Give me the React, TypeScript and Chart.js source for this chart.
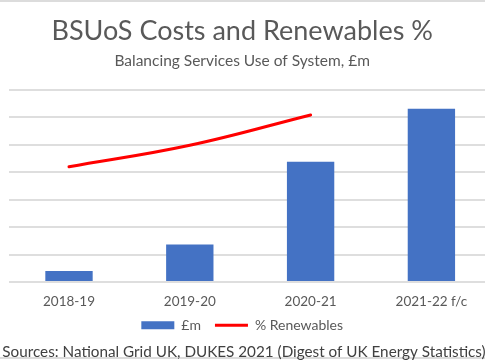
import React, { useEffect, useRef } from "react";
import { Chart, registerables } from "chart.js";

Chart.register(...registerables);

const categories = ["2018-19", "2019-20", "2020-21", "2021-22 f/c"];
const costValues = [40, 137, 438, 632];
const renewablesValues: (number | null)[] = [30.0, 35.6, 43.5, null];
const costTicks = { min: 0, max: 700, step: 100 };
const renewTicks = { min: 0, max: 50 };
const titleText = "BSUoS Costs and Renewables %";
const subtitleText = "Balancing Services Use of System, £m";
const sourceText = "Sources: National Grid UK, DUKES 2021 (Digest of UK Energy Statistics)";

const FONT = "Lato, 'Open Sans', sans-serif";
const GREY = "#595959";
const LEGEND_PAD = 14;
const LEGEND_FONT = 14;
const LEGEND_CENTER_Y = 325.3;

export default function App() {
  const ref = useRef<HTMLCanvasElement>(null);

  useEffect(() => {
    const canvas = ref.current;
    if (!canvas) return;

    const framePlugin = {
      id: "frame",
      afterLayout(chart: any) {
        const lg = chart.legend;
        if (lg) {
          const shift = lg.top + LEGEND_PAD + LEGEND_FONT / 2 - LEGEND_CENTER_Y;
          lg.top -= shift;
          lg.bottom -= shift;
        }
      },
      beforeDraw(chart: any) {
        const ctx = chart.ctx;
        ctx.save();
        ctx.fillStyle = "#ffffff";
        ctx.fillRect(0, 0, chart.width, chart.height);
        ctx.fillStyle = "#dcdcdc";
        ctx.fillRect(0, 0, chart.width, 2);
        ctx.fillRect(0, 357, chart.width, 2);
        ctx.restore();
      },
      afterDraw(chart: any) {
        const ctx = chart.ctx;
        ctx.save();
        ctx.font = `15.25px ${FONT}`;
        ctx.fillStyle = "#404040";
        ctx.textAlign = "center";
        ctx.textBaseline = "middle";
        ctx.fillText(sourceText, 252, 352);
        ctx.restore();
      },
    };

    const chart = new Chart(canvas, {
      type: "bar",
      data: {
        labels: categories,
        datasets: [
          {
            type: "bar",
            label: "£m",
            data: costValues,
            yAxisID: "y",
            backgroundColor: "#4472C4",
            borderWidth: 0,
            categoryPercentage: 0.8,
            barPercentage: 0.49,
          } as any,
          {
            type: "line",
            label: "% Renewables",
            data: renewablesValues,
            yAxisID: "y1",
            borderColor: "#FF0000",
            backgroundColor: "#FF0000",
            borderWidth: 3,
            pointRadius: 0,
            tension: 0.4,
            borderCapStyle: "round",
            spanGaps: false,
          } as any,
        ],
      },
      options: {
        responsive: false,
        animation: false,
        devicePixelRatio: 1,
        layout: { padding: { left: 0.6, right: 0.2, top: 0, bottom: 12 } },
        plugins: {
          title: {
            display: true,
            text: titleText,
            color: GREY,
            font: { family: FONT, size: 27, weight: "normal" },
            padding: { top: 15.5, bottom: 3.8 },
          },
          subtitle: {
            display: true,
            text: subtitleText,
            color: GREY,
            font: { family: FONT, size: 15.5, weight: "normal" },
            padding: { top: 0, bottom: 19.7 },
          },
          legend: {
            display: true,
            position: "bottom",
            labels: {
              usePointStyle: true,
              pointStyleWidth: 33,
              boxHeight: 8,
              padding: LEGEND_PAD,
              color: GREY,
              font: { family: FONT, size: LEGEND_FONT },
              generateLabels(chart: any) {
                const items = (Chart.defaults.plugins.legend.labels as any).generateLabels(chart);
                items.forEach((it: any) => {
                  const ds = chart.data.datasets[it.datasetIndex];
                  if (ds.type === "line") {
                    it.pointStyle = "line";
                    it.lineWidth = 3;
                    it.strokeStyle = "#FF0000";
                  } else {
                    it.pointStyle = "rect";
                    it.lineWidth = 0;
                    it.fillStyle = "#4472C4";
                  }
                });
                return items;
              },
            },
          },
          tooltip: { enabled: false },
        },
        scales: {
          x: {
            grid: { display: false, drawTicks: false },
            border: { display: false },
            ticks: {
              color: GREY,
              font: { family: FONT, size: 13.5 },
              padding: 11.6,
              maxRotation: 0,
            },
            afterFit(s: any) {
              s.height = 28;
            },
          },
          y: {
            min: costTicks.min,
            max: costTicks.max,
            ticks: { stepSize: costTicks.step, display: false },
            grid: { color: "#dedede", lineWidth: 2, drawTicks: false },
            border: { display: false },
            afterFit(s: any) {
              s.width = 16;
            },
          },
          y1: {
            display: false,
            position: "right",
            min: renewTicks.min,
            max: renewTicks.max,
          },
        },
      } as any,
      plugins: [framePlugin],
    });

    return () => chart.destroy();
  }, []);

  return (
    <div
      style={{
        position: "fixed",
        left: 0,
        top: 0,
        width: 485,
        height: 360,
        overflow: "hidden",
        background: "#fff",
      }}
    >
      <canvas
        ref={ref}
        width={500}
        height={360}
        style={{ position: "absolute", left: -8, top: 0, width: 500, height: 360 }}
      />
    </div>
  );
}
